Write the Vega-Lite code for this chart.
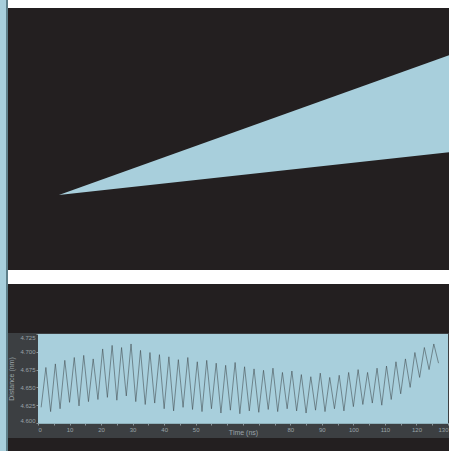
{
  "$schema": "https://vega.github.io/schema/vega-lite/v6.json",
  "background": "#5f7f89",
  "padding": 0,
  "config": {
    "view": {"stroke": null},
    "font": "Liberation Sans",
    "axis": {"labelOverlap": false}
  },
  "datasets": {
    "wedge": [
      {"x": 11.5, "upper": 28.6, "lower": 28.6},
      {"x": 100, "upper": 82.1, "lower": 45.0}
    ],
    "series": [
      {"t": 1, "v": 4.622}, {"t": 2.5, "v": 4.678}, {"t": 4, "v": 4.616}, {"t": 5.5, "v": 4.683},
      {"t": 7, "v": 4.620}, {"t": 8.5, "v": 4.688}, {"t": 10, "v": 4.629}, {"t": 11.5, "v": 4.692},
      {"t": 13, "v": 4.624}, {"t": 14.5, "v": 4.695}, {"t": 16, "v": 4.630}, {"t": 17.5, "v": 4.690},
      {"t": 19, "v": 4.633}, {"t": 20.5, "v": 4.704}, {"t": 22, "v": 4.636}, {"t": 23.5, "v": 4.709},
      {"t": 25, "v": 4.632}, {"t": 26.5, "v": 4.706}, {"t": 28, "v": 4.638}, {"t": 29.5, "v": 4.711},
      {"t": 31, "v": 4.630}, {"t": 32.5, "v": 4.702}, {"t": 34, "v": 4.626}, {"t": 35.5, "v": 4.699},
      {"t": 37, "v": 4.628}, {"t": 38.5, "v": 4.696}, {"t": 40, "v": 4.620}, {"t": 41.5, "v": 4.693},
      {"t": 43, "v": 4.617}, {"t": 44.5, "v": 4.689}, {"t": 46, "v": 4.622}, {"t": 47.5, "v": 4.692},
      {"t": 49, "v": 4.619}, {"t": 50.5, "v": 4.686}, {"t": 52, "v": 4.616}, {"t": 53.5, "v": 4.688},
      {"t": 55, "v": 4.620}, {"t": 56.5, "v": 4.684}, {"t": 58, "v": 4.614}, {"t": 59.5, "v": 4.681},
      {"t": 61, "v": 4.618}, {"t": 62.5, "v": 4.685}, {"t": 64, "v": 4.613}, {"t": 65.5, "v": 4.679},
      {"t": 67, "v": 4.617}, {"t": 68.5, "v": 4.676}, {"t": 70, "v": 4.615}, {"t": 71.5, "v": 4.674},
      {"t": 73, "v": 4.619}, {"t": 74.5, "v": 4.677}, {"t": 76, "v": 4.616}, {"t": 77.5, "v": 4.671},
      {"t": 79, "v": 4.620}, {"t": 80.5, "v": 4.673}, {"t": 82, "v": 4.617}, {"t": 83.5, "v": 4.668},
      {"t": 85, "v": 4.614}, {"t": 86.5, "v": 4.665}, {"t": 88, "v": 4.618}, {"t": 89.5, "v": 4.670},
      {"t": 91, "v": 4.616}, {"t": 92.5, "v": 4.664}, {"t": 94, "v": 4.620}, {"t": 95.5, "v": 4.667},
      {"t": 97, "v": 4.617}, {"t": 98.5, "v": 4.671}, {"t": 100, "v": 4.623}, {"t": 101.5, "v": 4.675},
      {"t": 103, "v": 4.626}, {"t": 104.5, "v": 4.671}, {"t": 106, "v": 4.628}, {"t": 107.5, "v": 4.677},
      {"t": 109, "v": 4.625}, {"t": 110.5, "v": 4.680}, {"t": 112, "v": 4.633}, {"t": 113.5, "v": 4.686},
      {"t": 115, "v": 4.641}, {"t": 116.5, "v": 4.690}, {"t": 118, "v": 4.650}, {"t": 119.5, "v": 4.699},
      {"t": 121, "v": 4.664}, {"t": 122.5, "v": 4.706}, {"t": 124, "v": 4.675}, {"t": 125.5, "v": 4.711},
      {"t": 127, "v": 4.684}
    ]
  },
  "spacing": 1,
  "hconcat": [
    {
      "width": 6,
      "height": 451,
      "view": {"fill": "#a8cfdc", "stroke": null},
      "data": {"values": [{"panel": "strip"}]},
      "mark": {"type": "rect", "color": "#a8cfdc"},
      "encoding": {}
    },
    {
      "spacing": 0,
      "vconcat": [
        {
          "width": 442,
          "height": 8,
          "view": {"fill": "#ffffff", "stroke": null},
          "data": {"values": [{"panel": "top margin"}]},
          "mark": {"type": "rect", "color": "#ffffff"},
          "encoding": {}
        },
        {
          "width": 442,
          "height": 262,
          "view": {"fill": "#231f20", "stroke": null},
          "data": {"name": "wedge"},
          "mark": {"type": "area", "color": "#a8cfdc"},
          "encoding": {
            "x": {"field": "x", "type": "quantitative", "scale": {"domain": [0, 100], "nice": false, "zero": false}, "axis": null},
            "y": {"field": "upper", "type": "quantitative", "scale": {"domain": [0, 100], "nice": false, "zero": false}, "axis": null},
            "y2": {"field": "lower"}
          }
        },
        {
          "width": 442,
          "height": 14,
          "view": {"fill": "#ffffff", "stroke": null},
          "data": {"values": [{"panel": "gap"}]},
          "mark": {"type": "rect", "color": "#ffffff"},
          "encoding": {}
        },
        {
          "width": 442,
          "height": 49,
          "view": {"fill": "#231f20", "stroke": null},
          "data": {"values": [{"panel": "upper band"}]},
          "mark": {"type": "rect", "color": "#231f20"},
          "encoding": {}
        },
        {
          "width": 442,
          "height": 105,
          "view": {"fill": "#3c3f42", "stroke": null},
          "layer": [
            {
              "data": {"values": [{"panel": "plot area"}]},
              "mark": {"type": "rect", "color": "#a8cfdc"},
              "encoding": {
                "x": {
                  "datum": 0, "type": "quantitative",
                  "scale": {"domain": [0, 130], "range": [30, 440], "nice": false, "zero": false},
                  "axis": {
                    "values": [0, 5, 10, 15, 20, 25, 30, 35, 40, 45, 50, 55, 60, 65, 70, 75, 80, 85, 90, 95, 100, 105, 110, 115, 120, 125, 130],
                    "labelExpr": "(datum.value % 10 == 0 && datum.value != 60 && datum.value != 70) ? datum.label : ''",
                    "labelOverlap": false,
                    "offset": -15,
                    "grid": false,
                    "domainColor": "#8fb1bb",
                    "tickColor": "#8c969b",
                    "tickSize": 2,
                    "labelColor": "#9aa3a8",
                    "labelFontSize": 6,
                    "labelPadding": 1,
                    "title": "Time (ns)",
                    "titleColor": "#9aa3a8",
                    "titleFontSize": 7,
                    "titleFontWeight": "normal",
                    "titleY": 5,
                    "titleBaseline": "top"
                  }
                },
                "x2": {"datum": 130},
                "y": {
                  "datum": 4.6, "type": "quantitative",
                  "scale": {"domain": [4.6, 4.725], "range": [90, 1], "nice": false, "zero": false},
                  "axis": {
                    "values": [4.6, 4.625, 4.65, 4.675, 4.7, 4.725],
                    "format": ".3f",
                    "labelOverlap": false,
                    "offset": -30,
                    "grid": false,
                    "domainColor": "#8fb1bb",
                    "tickColor": "#8c969b",
                    "tickSize": 2,
                    "labelColor": "#9aa3a8",
                    "labelFontSize": 6,
                    "labelPadding": 1,
                    "labelFlush": true,
                    "title": "Distance (nm)",
                    "titleColor": "#9aa3a8",
                    "titleFontSize": 7,
                    "titleFontWeight": "normal",
                    "titlePadding": 5
                  }
                },
                "y2": {"datum": 4.725}
              }
            },
            {
              "data": {"name": "series"},
              "mark": {"type": "line", "color": "#3f474b", "strokeWidth": 0.7, "opacity": 0.8},
              "encoding": {
                "x": {
                  "field": "t", "type": "quantitative",
                  "axis": {
                    "values": [0, 5, 10, 15, 20, 25, 30, 35, 40, 45, 50, 55, 60, 65, 70, 75, 80, 85, 90, 95, 100, 105, 110, 115, 120, 125, 130],
                    "labelExpr": "(datum.value % 10 == 0 && datum.value != 60 && datum.value != 70) ? datum.label : ''",
                    "labelOverlap": false,
                    "offset": -15,
                    "grid": false,
                    "domainColor": "#8fb1bb",
                    "tickColor": "#8c969b",
                    "tickSize": 2,
                    "labelColor": "#9aa3a8",
                    "labelFontSize": 6,
                    "labelPadding": 1,
                    "title": "Time (ns)",
                    "titleColor": "#9aa3a8",
                    "titleFontSize": 7,
                    "titleFontWeight": "normal",
                    "titleY": 5,
                    "titleBaseline": "top"
                  }
                },
                "y": {
                  "field": "v", "type": "quantitative",
                  "axis": {
                    "values": [4.6, 4.625, 4.65, 4.675, 4.7, 4.725],
                    "format": ".3f",
                    "labelOverlap": false,
                    "offset": -30,
                    "grid": false,
                    "domainColor": "#8fb1bb",
                    "tickColor": "#8c969b",
                    "tickSize": 2,
                    "labelColor": "#9aa3a8",
                    "labelFontSize": 6,
                    "labelPadding": 1,
                    "labelFlush": true,
                    "title": "Distance (nm)",
                    "titleColor": "#9aa3a8",
                    "titleFontSize": 7,
                    "titleFontWeight": "normal",
                    "titlePadding": 5
                  }
                }
              }
            }
          ]
        },
        {
          "width": 442,
          "height": 20,
          "view": {"fill": "#231f20", "stroke": null},
          "data": {"values": [{"panel": "lower band"}]},
          "mark": {"type": "rect", "color": "#231f20"},
          "encoding": {}
        }
      ]
    }
  ]
}
